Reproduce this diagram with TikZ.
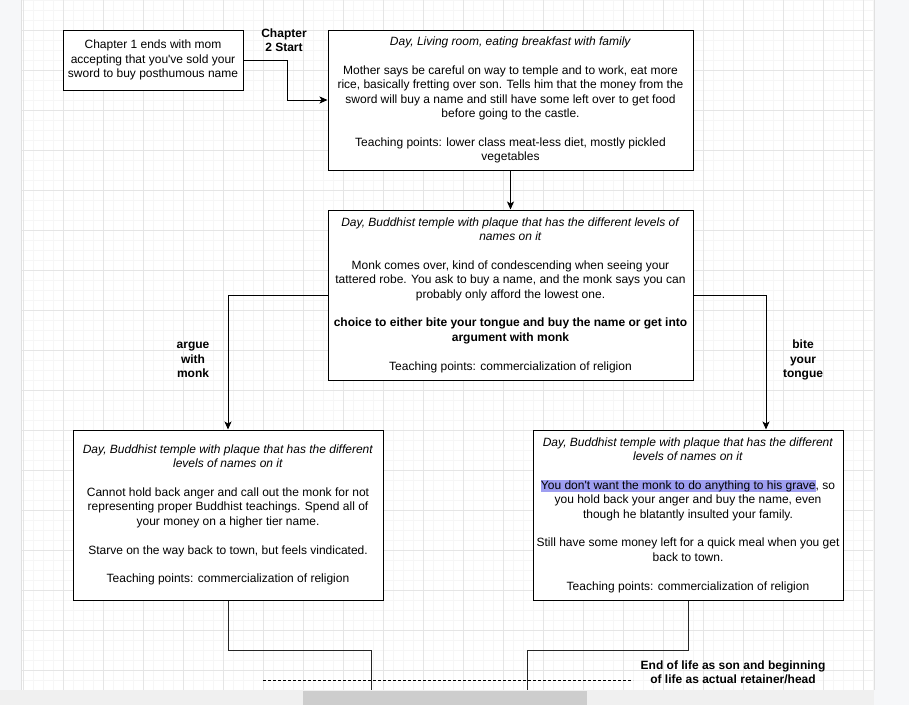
\documentclass[tikz,border=0pt]{standalone}
\usepackage{fontspec}
\setmainfont{Liberation Sans}
\usetikzlibrary{arrows.meta}
\definecolor{finegrid}{RGB}{246,246,246}
\definecolor{majorgrid}{RGB}{229,229,229}
\definecolor{hl}{RGB}{158,158,240}
\definecolor{panel}{RGB}{246,247,249}
\definecolor{strip}{RGB}{240,240,240}
\definecolor{thumb}{RGB}{205,205,205}
\newcommand{\blankln}{\\[14.4pt]}
\newcommand{\hlstrut}{\rule[-2.6pt]{0pt}{12.2pt}}
\tikzset{
 box/.style={draw=black, line width=1pt, fill=white, align=center, inner sep=0pt, font=\fontsize{12}{14.4}\selectfont},
 lbl/.style={align=center, inner sep=0pt, font=\fontsize{12}{14.4}\selectfont\bfseries},
 arr/.style={draw=black, line width=1pt, -{Stealth[length=8pt,width=7pt,inset=2pt]}},
 conn/.style={draw=black!85, line width=1pt},
 dashln/.style={draw=black, line width=0.8pt, dash pattern=on 3pt off 2pt},
}
\begin{document}
\begin{tikzpicture}[x=1pt,y=-1pt]
\useasboundingbox (0,0) rectangle (909,705);
\fill[white] (0,0) rectangle (909,705);
% grid
\foreach \x in {23,33,...,873} \draw[finegrid, line width=0.8pt] (\x,0) -- (\x,690);
\foreach \y in {0,10,...,690} \draw[finegrid, line width=0.8pt] (21,\y) -- (873,\y);
\foreach \x in {23,63,...,863} \draw[majorgrid, line width=0.8pt] (\x,0) -- (\x,690);
\foreach \y in {30,70,...,670} \draw[majorgrid, line width=0.8pt] (21,\y) -- (873,\y);

% nodes
\node[box, minimum width=180pt, minimum height=60pt] (A) at (153,60)
 {Chapter 1 ends with mom\\accepting that you\textquotesingle ve sold your\\sword to buy posthumous name};
\node[box, minimum width=365pt, minimum height=140pt] (B) at (510.5,100)
 {\textit{Day, Living room, eating breakfast with family}\blankln
  Mother says be careful on way to temple and to work, eat more\\
  rice, basically fretting over son. Tells him that the money from the\\
  sword will buy a name and still have some left over to get food\\
  before going to the castle.\blankln
  Teaching points: lower class meat-less diet, mostly pickled\\
  vegetables};
\node[box, minimum width=365pt, minimum height=170pt] (C) at (510.5,295)
 {\textit{Day, Buddhist temple with plaque that has the different levels of}\\
  \textit{names on it}\blankln
  Monk comes over, kind of condescending when seeing your\\
  tattered robe. You ask to buy a name, and the monk says you can\\
  probably only afford the lowest one.\blankln
  \textbf{choice to either bite your tongue and buy the name or get into}\\
  \textbf{argument with monk}\blankln
  Teaching points: commercialization of religion};
\node[box, minimum width=310pt, minimum height=170pt] (D) at (228,515)
 {\textit{Day, Buddhist temple with plaque that has the different}\\
  \textit{levels of names on it}\blankln
  Cannot hold back anger and call out the monk for not\\
  representing proper Buddhist teachings. Spend all of\\
  your money on a higher tier name.\blankln
  Starve on the way back to town, but feels vindicated.\blankln
  Teaching points: commercialization of religion};
\node[box, minimum width=310pt, minimum height=170pt] (E) at (688,515)
 {\textit{Day, Buddhist temple with plaque that has the different}\\
  \textit{levels of names on it}\blankln
  {\setlength{\fboxsep}{0pt}\colorbox{hl}{\hlstrut You don\textquotesingle t want the monk to do anything to his grave}}, so\\
  you hold back your anger and buy the name, even\\
  though he blatantly insulted your family.\blankln
  Still have some money left for a quick meal when you get\\
  back to town.\blankln
  Teaching points: commercialization of religion};

% labels
\node[lbl] (ch2) at (284,40) {Chapter\\2 Start};
\node[lbl] (argue) at (193,360) {argue\\with\\monk};
\node[lbl] (bite) at (803,360) {bite\\your\\tongue};
\node[lbl] (endlife) at (733,672) {End of life as son and beginning\\of life as actual retainer/head};

% connectors
\draw[arr] (A.east) -- ++(44,0) |- (B.west);
\draw[arr] (B.south) -- (C.north);
\draw[arr] (C.west) -| (D.north);
\draw[arr] (C.east) -| ([xshift=78pt]E.north);
\coordinate (dend) at (371,700);
\coordinate (eend) at (527,700);
\draw[conn] (D.south) -- ++(0,50) -| (dend);
\draw[conn] (E.south) -- ++(0,50) -| (eend);
\coordinate (dl) at (263,680);
\coordinate (dr) at (633,680);
\draw[dashln] (dl) -- (dr);

% window chrome
\fill[panel] (0,0) rectangle (21,690);
\draw[black!12, line width=0.8pt] (21,0) -- (21,690);
\fill[strip] (0,690) rectangle (874,705);
\fill[thumb] (303,691) rectangle (587,705);
\fill[panel] (874,0) rectangle (909,705);
\draw[black!12, line width=0.8pt] (874,0) -- (874,690);
\end{tikzpicture}
\end{document}
